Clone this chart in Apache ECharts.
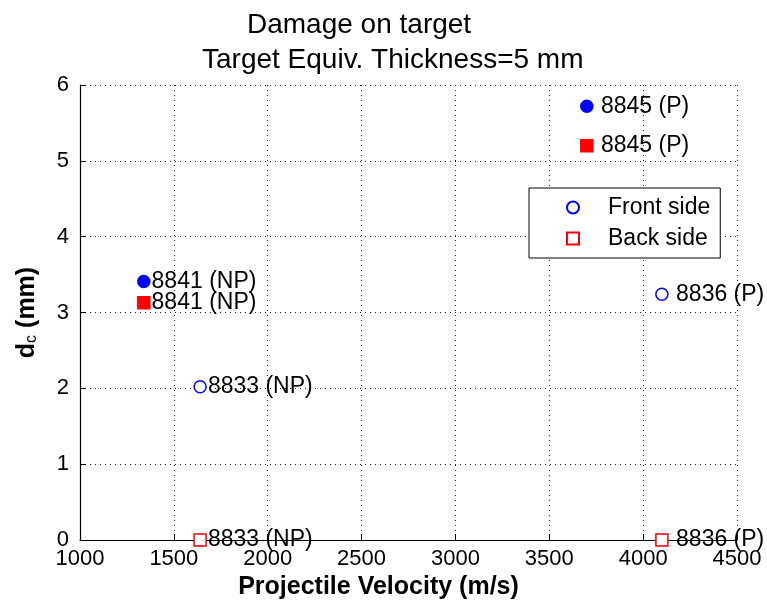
<!DOCTYPE html>
<html>
<head>
<meta charset="utf-8">
<script src="https://cdn.jsdelivr.net/npm/echarts@6/dist/echarts.min.js"></script>
<style>
html,body{margin:0;padding:0;background:#fff;}
#chart{width:767px;height:605px;}
</style>
</head>
<body>
<div id="chart"></div>
<script>
// ---- data ----
const shotLabels = [' 8845 (P)', '8841 (NP)', '8833 (NP)', ' 8836 (P)'];
const velocity = [3700, 1340, 1640, 4100];      // m/s
const frontDc = [5.72, 3.41, 2.02, 3.24];       // mm
const backDc = [5.20, 3.13, 0, 0];              // mm
const filledMarker = [true, true, false, false];
const xTicks = [1000, 1500, 2000, 2500, 3000, 3500, 4000, 4500];
const yTicks = [0, 1, 2, 3, 4, 5, 6];

const FONT = "'Liberation Sans', Arial, Helvetica, sans-serif";
const BLUE = '#0000ff';
const RED = '#ff0000';

function buildData(vals, color) {
  return vals.map((v, i) => {
    const item = { name: shotLabels[i], value: [velocity[i], v] };
    if (filledMarker[i]) item.itemStyle = { color: color };
    return item;
  });
}

const chart = echarts.init(document.getElementById('chart'), null, { renderer: 'canvas' });
const gridDots = { type: [1, 4], color: '#222', width: 1 };

chart.setOption({
  animation: false,
  backgroundColor: '#fff',
  textStyle: { fontFamily: FONT },
  title: [
    { text: 'Damage on target', left: 247, top: 11, padding: 0,
      textStyle: { fontFamily: FONT, fontSize: 28, fontWeight: 'normal', color: '#000' } },
    { text: 'Target Equiv. Thickness=5 mm', left: 202, top: 46, padding: 0,
      textStyle: { fontFamily: FONT, fontSize: 28, fontWeight: 'normal', color: '#000' } }
  ],
  grid: { left: 80, right: 30, top: 85, bottom: 62, containLabel: false },
  legend: {
    orient: 'vertical',
    left: 529, top: 188,
    padding: [8, 10, 8, 37],
    itemGap: 8,
    itemWidth: 12, itemHeight: 12,
    borderColor: '#000', borderWidth: 1,
    backgroundColor: '#fff',
    textStyle: { fontFamily: FONT, fontSize: 23, color: '#000', padding: [0, 0, 0, 24] },
    data: ['Front side', 'Back side']
  },
  xAxis: {
    type: 'value',
    min: xTicks[0], max: xTicks[xTicks.length - 1], interval: xTicks[1] - xTicks[0],
    name: 'Projectile Velocity (m/s)',
    nameLocation: 'middle', nameGap: 35,
    nameTextStyle: { fontFamily: FONT, fontSize: 25, fontWeight: 'bold', color: '#000', padding: [0, 60, 0, 0] },
    axisLine: { show: true, lineStyle: { color: '#000', width: 1.2 } },
    axisTick: { show: true, inside: true, length: 6, lineStyle: { color: '#000' } },
    axisLabel: { fontFamily: FONT, fontSize: 22, color: '#000', margin: 8,
      formatter: v => String(v) },
    splitLine: { show: true, lineStyle: gridDots }
  },
  yAxis: {
    type: 'value',
    min: yTicks[0], max: yTicks[yTicks.length - 1], interval: yTicks[1] - yTicks[0],
    name: '{b|d}{s|c}{b| (mm)}',
    nameLocation: 'middle', nameGap: 40,
    nameTextStyle: {
      rich: {
        b: { fontFamily: FONT, fontSize: 25, fontWeight: 'bold', color: '#000', lineHeight: 25, verticalAlign: 'bottom' },
        s: { fontFamily: FONT, fontSize: 16, fontWeight: 'normal', color: '#000', lineHeight: 16, verticalAlign: 'bottom' }
      }
    },
    axisLine: { show: true, lineStyle: { color: '#000', width: 1.2 } },
    axisTick: { show: true, inside: true, length: 6, lineStyle: { color: '#000' } },
    axisLabel: { fontFamily: FONT, fontSize: 22, color: '#000', margin: 11,
      formatter: v => String(v) },
    splitLine: { show: true, lineStyle: gridDots }
  },
  series: [
    {
      name: 'Front side', type: 'scatter', symbol: 'circle', symbolSize: 12,
      itemStyle: { color: '#fff', borderColor: BLUE, borderWidth: 1.5, opacity: 1 },
      label: { show: true, position: 'right', distance: 1, formatter: '{b}',
        fontFamily: FONT, fontSize: 23, color: '#000', opacity: 1 },
      data: buildData(frontDc, BLUE), z: 3
    },
    {
      name: 'Back side', type: 'scatter', symbol: 'rect', symbolSize: 12,
      itemStyle: { color: '#fff', borderColor: RED, borderWidth: 1.5, opacity: 1 },
      label: { show: true, position: 'right', distance: 1, formatter: '{b}',
        fontFamily: FONT, fontSize: 23, color: '#000', opacity: 1 },
      data: buildData(backDc, RED), z: 3
    }
  ]
});
</script>
</body>
</html>
